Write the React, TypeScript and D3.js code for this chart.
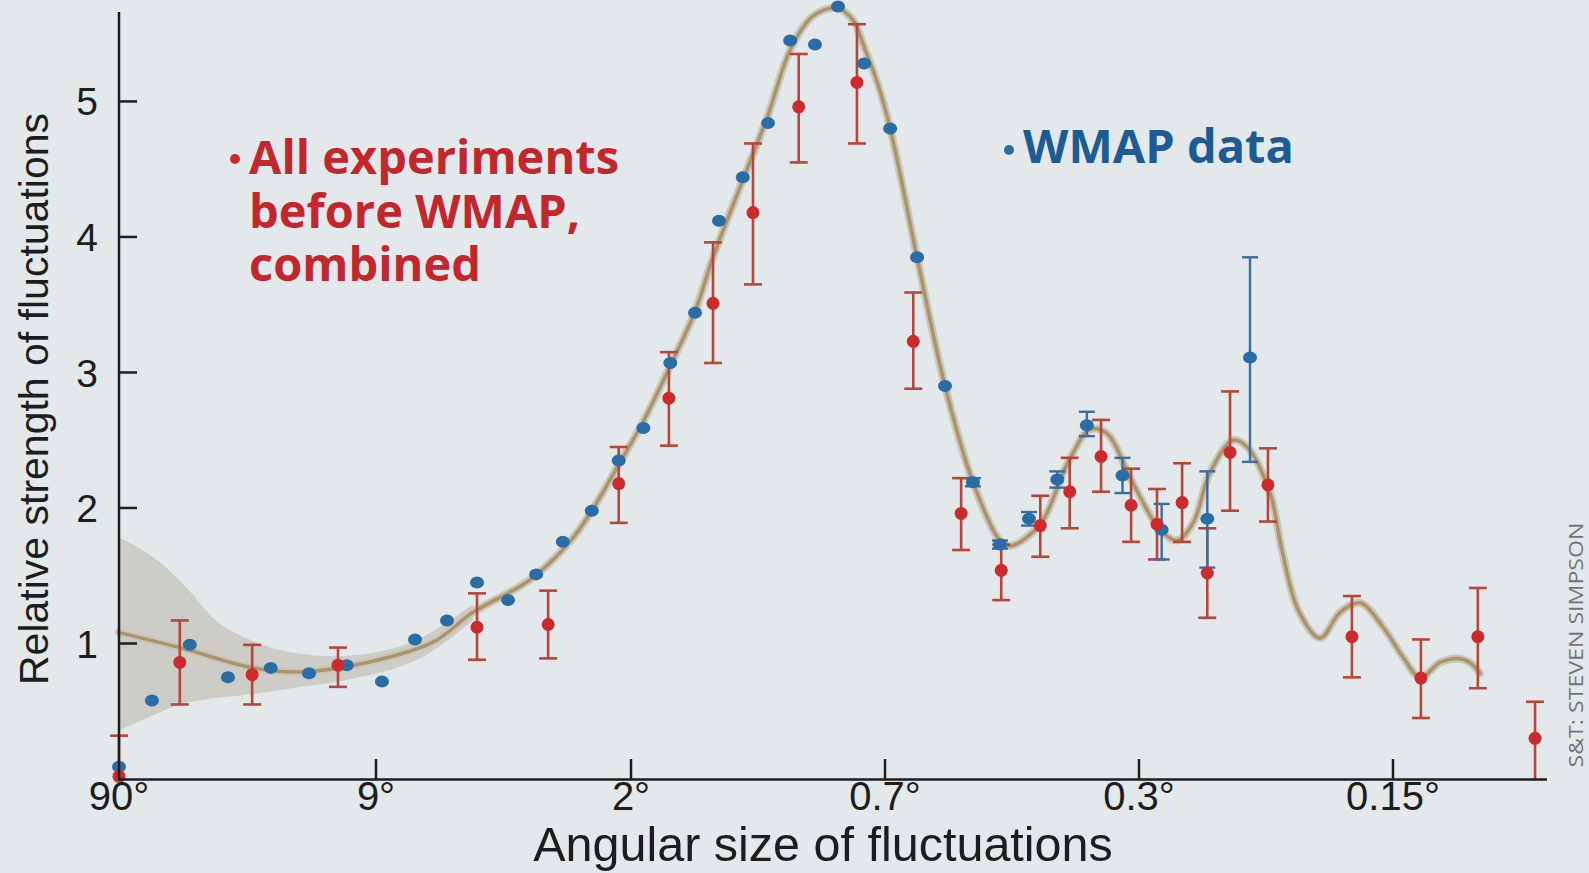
import React from 'react';
import * as d3 from 'd3';

const W = 1589;
const H = 873;

// x axis: angular size (degrees), ticks evenly spaced on the original chart
const tickAngles = [90, 9, 2, 0.7, 0.3, 0.15];
const tickLabels = ['90°', '9°', '2°', '0.7°', '0.3°', '0.15°'];
const yTickValues = [1, 2, 3, 4, 5];

// WMAP data (blue)
const wmapAngle = [90, 67.0, 47.7, 33.9, 23.1, 16.4, 11.7, 8.69, 7.15, 5.92, 4.96, 4.13, 3.5, 2.99, 2.52, 2.15, 1.9, 1.7, 1.535, 1.39, 1.26, 1.135, 1.036, 0.935, 0.85, 0.763, 0.688, 0.629, 0.573, 0.522, 0.477, 0.433, 0.394, 0.357, 0.317, 0.282, 0.249, 0.2216];
const wmapValue = [0.09, 0.58, 0.99, 0.75, 0.82, 0.78, 0.84, 0.72, 1.03, 1.17, 1.45, 1.32, 1.51, 1.75, 1.98, 2.35, 2.59, 3.07, 3.44, 4.12, 4.44, 4.84, 5.45, 5.42, 5.7, 5.28, 4.8, 3.85, 2.9, 2.19, 1.73, 1.92, 2.21, 2.61, 2.24, 1.84, 1.92, 3.11];
const wmapErrLow: (number | null)[] = [null, null, null, null, null, null, null, null, null, null, null, null, null, null, null, null, null, null, null, null, null, null, null, null, null, null, null, null, null, 2.16, 1.7, 1.87, 2.15, 2.53, 2.11, 1.62, 1.56, 2.34];
const wmapErrHigh: (number | null)[] = [null, null, null, null, null, null, null, null, null, null, null, null, null, null, null, null, null, null, null, null, null, null, null, null, null, null, null, null, null, 2.22, 1.76, 1.97, 2.27, 2.71, 2.37, 2.03, 2.27, 3.85];

// All experiments before WMAP, combined (red)
const preAngle = [90, 52.2, 27.3, 12.65, 4.96, 3.26, 2.15, 1.71, 1.425, 1.208, 1.0, 0.786, 0.637, 0.543, 0.475, 0.417, 0.378, 0.3405, 0.308, 0.2856, 0.2667, 0.249, 0.234, 0.211, 0.1678, 0.139, 0.119, 0.1018];
const preValue = [0.02, 0.86, 0.77, 0.84, 1.12, 1.14, 2.18, 2.81, 3.51, 4.18, 4.96, 5.14, 3.23, 1.96, 1.54, 1.87, 2.12, 2.38, 2.02, 1.88, 2.04, 1.52, 2.41, 2.17, 1.05, 0.745, 1.05, 0.3];
const preErrLow = [0, 0.55, 0.55, 0.68, 0.88, 0.89, 1.89, 2.46, 3.07, 3.65, 4.55, 4.69, 2.88, 1.69, 1.32, 1.64, 1.85, 2.12, 1.75, 1.62, 1.75, 1.19, 1.98, 1.9, 0.75, 0.45, 0.67, 0];
const preErrHigh = [0.32, 1.17, 0.99, 0.97, 1.37, 1.39, 2.45, 3.15, 3.96, 4.69, 5.35, 5.57, 3.59, 2.22, 1.73, 2.09, 2.37, 2.65, 2.29, 2.14, 2.33, 1.85, 2.86, 2.44, 1.35, 1.03, 1.41, 0.57];

// best-fit model curve
const modelAngle = [90, 52.2, 27.1, 17.8, 9.75, 6.43, 5.08, 3.63, 2.87, 2.52, 2.15, 1.9, 1.7, 1.535, 1.425, 1.26, 1.135, 1.036, 0.943, 0.854, 0.799, 0.763, 0.724, 0.688, 0.629, 0.573, 0.522, 0.477, 0.461, 0.417, 0.3815, 0.353, 0.334, 0.306, 0.2833, 0.2705, 0.2588, 0.2472, 0.2321, 0.2234, 0.2098, 0.2031, 0.1944, 0.1831, 0.1733, 0.1641, 0.1541, 0.146, 0.1393, 0.1319, 0.1259, 0.1216, 0.1183];
const modelValue = [1.08, 0.97, 0.82, 0.79, 0.86, 1.01, 1.23, 1.47, 1.75, 1.98, 2.32, 2.64, 3.05, 3.45, 3.85, 4.42, 4.9, 5.38, 5.63, 5.69, 5.6, 5.4, 5.15, 4.8, 3.85, 2.9, 2.19, 1.76, 1.72, 1.88, 2.32, 2.58, 2.55, 2.18, 1.84, 1.76, 1.89, 2.26, 2.5, 2.45, 2.11, 1.69, 1.25, 1.04, 1.23, 1.3, 1.12, 0.9, 0.75, 0.86, 0.89, 0.86, 0.78];

// cosmic variance band at large angles
const bandAngle = [90, 68.2, 52.2, 43.6, 38.5, 32.4, 23.9, 17.8, 13.2, 9.75, 7.81, 6.43, 5.08];
const bandLow = [0.36, 0.46, 0.56, 0.58, 0.6, 0.61, 0.64, 0.68, 0.71, 0.76, 0.82, 0.93, 1.17];
const bandHigh = [1.78, 1.67, 1.47, 1.3, 1.17, 1.08, 0.97, 0.92, 0.9, 0.92, 0.97, 1.08, 1.29];

const RED = '#cc2a2c';
const RED_BAR = '#b8453b';
const BLUE = '#2a6ca6';
const BLUE_BAR = '#3d6c9c';
const AXIS = '#1d1d1d';

export default function App() {
  const x = d3.scaleLog().domain(tickAngles).range([119, 376, 631, 885, 1139, 1393]);
  const y = d3.scaleLinear().domain([0, 5.66]).range([779, 12]);

  const model = modelAngle.map((a, i) => [a, modelValue[i]] as [number, number]);
  const line = d3
    .line<[number, number]>()
    .x((d) => x(d[0]))
    .y((d) => y(d[1]))
    .curve(d3.curveCatmullRom.alpha(0.5));

  const band = bandAngle.map((a, i) => ({ a, lo: bandLow[i], hi: bandHigh[i] }));
  const area = d3
    .area<{ a: number; lo: number; hi: number }>()
    .x((d) => x(d.a))
    .y0((d) => y(d.lo))
    .y1((d) => y(d.hi))
    .curve(d3.curveBasis);

  const axisFont = "'Liberation Sans', Arial, Helvetica, sans-serif";
  const legendFont = "'Open Sans', 'Noto Sans', sans-serif";

  return (
    <svg
      width={W}
      height={H}
      viewBox={`0 0 ${W} ${H}`}
      style={{ position: 'fixed', left: 0, top: 0, display: 'block' }}
    >
      <rect x={0} y={0} width={W} height={H} fill="#e3e9ea" />

      {/* band */}
      <path d={area(band) || ''} fill="#c9c7c0" opacity={0.85} />

      {/* model curve */}
      <path d={line(model) || ''} fill="none" stroke="#cbc6b8" strokeWidth={8} strokeLinecap="round" />
      <path d={line(model) || ''} fill="none" stroke="#ab946d" strokeWidth={3.5} strokeLinecap="round" />

      {/* red error bars */}
      {preAngle.map((a, i) => {
        const cx = x(a);
        const y1 = y(preErrHigh[i]);
        const y2 = y(preErrLow[i]);
        return (
          <g key={'re' + i} stroke={RED_BAR} strokeWidth={2.6}>
            <line x1={cx} x2={cx} y1={y1} y2={y2} />
            <line x1={cx - 9} x2={cx + 9} y1={y1} y2={y1} />
            {preErrLow[i] > 0 && <line x1={cx - 9} x2={cx + 9} y1={y2} y2={y2} />}
          </g>
        );
      })}

      {/* blue error bars */}
      {wmapAngle.map((a, i) => {
        const lo = wmapErrLow[i];
        const hi = wmapErrHigh[i];
        if (lo == null || hi == null) return null;
        const cx = x(a);
        const y1 = y(hi);
        const y2 = y(lo);
        return (
          <g key={'be' + i} stroke={BLUE_BAR} strokeWidth={2.4}>
            <line x1={cx} x2={cx} y1={y1} y2={y2} />
            <line x1={cx - 8} x2={cx + 8} y1={y1} y2={y1} />
            <line x1={cx - 8} x2={cx + 8} y1={y2} y2={y2} />
          </g>
        );
      })}

      {/* blue points */}
      {wmapAngle.map((a, i) => (
        <ellipse key={'b' + i} cx={x(a)} cy={y(wmapValue[i])} rx={7} ry={6} fill={BLUE} />
      ))}

      {/* red points */}
      {preAngle.map((a, i) => (
        <circle key={'r' + i} cx={x(a)} cy={y(preValue[i])} r={6.5} fill={RED} />
      ))}

      {/* axes */}
      <line x1={119} x2={119} y1={12} y2={780} stroke={AXIS} strokeWidth={2.5} />
      <line x1={118} x2={1547} y1={779.5} y2={779.5} stroke={AXIS} strokeWidth={2.5} />

      {yTickValues.map((v) => (
        <g key={'yt' + v}>
          <line x1={119} x2={137} y1={y(v)} y2={y(v)} stroke={AXIS} strokeWidth={2.5} />
          <text
            x={98}
            y={y(v)}
            dy="0.36em"
            textAnchor="end"
            fontFamily={axisFont}
            fontSize={39}
            fill={AXIS}
          >
            {v}
          </text>
        </g>
      ))}

      {tickAngles.map((a, i) => (
        <g key={'xt' + i}>
          {i > 0 && <line x1={x(a)} x2={x(a)} y1={779} y2={759} stroke={AXIS} strokeWidth={2.5} />}
          <text
            x={x(a)}
            y={810}
            textAnchor="middle"
            fontFamily={axisFont}
            fontSize={40}
            fill={AXIS}
          >
            {tickLabels[i]}
          </text>
        </g>
      ))}

      <text
        x={823}
        y={861}
        textAnchor="middle"
        fontFamily={axisFont}
        fontSize={48.5}
        fill={AXIS}
      >
        Angular size of fluctuations
      </text>

      <text
        transform="translate(48,399) rotate(-90)"
        textAnchor="middle"
        fontFamily={axisFont}
        fontSize={41}
        fill={AXIS}
      >
        Relative strength of fluctuations
      </text>

      {/* legend */}
      <circle cx={235} cy={159} r={5} fill={RED} />
      <text x={249} y={174} fontFamily={legendFont} fontWeight={700} fontSize={47} fill="#c1272d">
        All experiments
      </text>
      <text x={249} y={228} fontFamily={legendFont} fontWeight={700} fontSize={47} fill="#c1272d">
        before WMAP,
      </text>
      <text x={249} y={281} fontFamily={legendFont} fontWeight={700} fontSize={47} fill="#c1272d">
        combined
      </text>

      <circle cx={1009} cy={150} r={5} fill={BLUE} />
      <text x={1023} y={163} fontFamily={legendFont} fontWeight={700} fontSize={47} fill="#1f5b93">
        WMAP data
      </text>

      {/* credit */}
      <text
        transform="translate(1583,645) rotate(-90)"
        textAnchor="middle"
        fontFamily="'Open Sans', sans-serif"
        fontSize={20}
        fill="#6f7375"
        textLength={245}
        lengthAdjust="spacingAndGlyphs"
      >
        S&amp;T: STEVEN SIMPSON
      </text>
    </svg>
  );
}
